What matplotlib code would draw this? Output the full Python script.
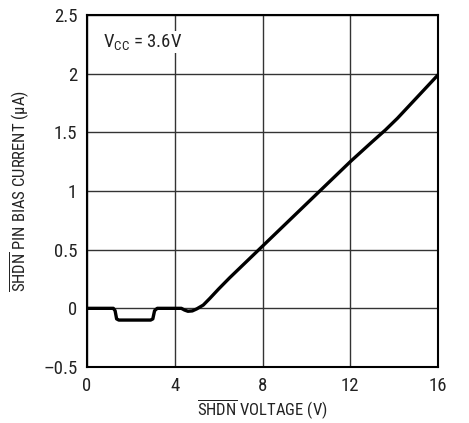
import matplotlib
matplotlib.use("Agg")
import matplotlib.pyplot as plt

fam = "Roboto Condensed"
plt.rcParams["font.family"] = [fam, "DejaVu Sans"]
plt.rcParams["mathtext.fontset"] = "custom"
plt.rcParams["mathtext.rm"] = fam
plt.rcParams["mathtext.it"] = fam
plt.rcParams["mathtext.bf"] = fam

voltage = [0.0, 1.2, 1.28, 1.35, 1.45, 2.9, 3.0, 3.08, 3.2, 4.3, 4.45, 4.6, 4.8, 5.0,
           5.3, 5.6, 6.0, 6.5, 7.0, 8.0, 9.0, 10.0, 11.0, 12.0, 13.0,
           13.6, 14.15, 15.0, 16.0]
current = [0.0, 0.0, -0.02, -0.09, -0.1, -0.1, -0.09, -0.02, 0.0, 0.0, -0.015, -0.025,
           -0.022, -0.005, 0.028, 0.085, 0.165, 0.26, 0.35, 0.53, 0.71, 0.89, 1.07, 1.25,
           1.42, 1.52, 1.62, 1.79, 1.99]

xticks = [0, 4, 8, 12, 16]
yticks = [-0.5, 0, 0.5, 1, 1.5, 2, 2.5]
ytick_labels = ["\u20130.5", "0", "0.5", "1", "1.5", "2", "2.5"]

fig = plt.figure(figsize=(4.69, 4.23), dpi=100)
ax = fig.add_axes([0.1855, 0.1324, 0.7485, 0.8321])
ax.plot(voltage, current, color="black", lw=2.4, solid_capstyle="round",
        solid_joinstyle="round", zorder=3)
ax.set_xlim(0, 16)
ax.set_ylim(-0.5, 2.5)
ax.set_xticks(xticks)
ax.set_yticks(yticks)
ax.set_yticklabels(ytick_labels)
ax.grid(True, color="#333333", lw=1.0)
ax.tick_params(length=0, labelsize=13.5, colors="#222222")
ax.tick_params(axis="x", pad=7)
ax.tick_params(axis="y", pad=7)
for s in ax.spines.values():
    s.set_linewidth(1.5)
ax.set_xlabel(r"$\overline{\mathrm{SHDN}}$ VOLTAGE (V)", fontsize=12, labelpad=2, color="#222222")
ax.set_ylabel(r"$\overline{\mathrm{SHDN}}$ PIN BIAS CURRENT (" + "\u00b5A)", fontsize=12,
              labelpad=9, color="#222222")
ax.text(0.73, 2.27, r"V$_{\mathrm{CC}}$ = 3.6V", fontsize=13.5, va="center", ha="left",
        color="#222222", bbox=dict(facecolor="white", edgecolor="none", pad=1), zorder=4)
fig.savefig("out.png", dpi=100)
